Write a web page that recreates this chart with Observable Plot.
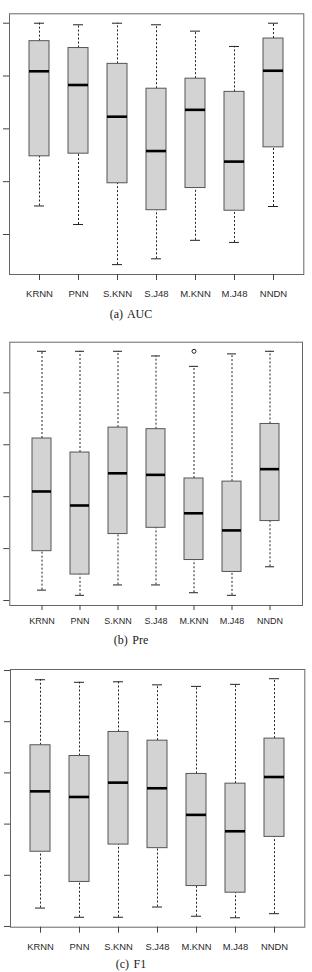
<!DOCTYPE html>
<html>
<head>
<meta charset="utf-8">
<script src="https://cdn.jsdelivr.net/npm/d3@7"></script>
<script src="https://cdn.jsdelivr.net/npm/@observablehq/plot@0.6"></script>
<style>
  html, body { margin: 0; padding: 0; background: #fff; }
  #wrap { position: relative; width: 312px; height: 972px; overflow: hidden; background: #fff; }
  .panel { position: absolute; left: 0; }
  .cap { position: absolute; left: 0; width: 262px; text-align: center; font-family: "Liberation Serif", "Times New Roman", serif; font-size: 12px; line-height: 12px; color: #1a1a1a; word-spacing: 1.5px; white-space: nowrap; }
</style>
</head>
<body>
<div id="wrap"></div>
<script>
// ---- data ----
const methods = ["KRNN", "PNN", "S.KNN", "S.J48", "M.KNN", "M.J48", "NNDN"];

// (a) AUC
const aucTicks = [0.6, 0.7, 0.8, 0.9, 1.0];
const aucMin = [0.654, 0.619, 0.543, 0.554, 0.589, 0.585, 0.653];
const aucQ1  = [0.748, 0.753, 0.697, 0.646, 0.688, 0.645, 0.765];
const aucMed = [0.909, 0.883, 0.823, 0.758, 0.836, 0.738, 0.910];
const aucQ3  = [0.966, 0.953, 0.923, 0.876, 0.895, 0.870, 0.971];
const aucMax = [1.000, 0.997, 1.000, 0.997, 0.985, 0.956, 1.000];

// (b) Pre
const preTicks = [0.5, 0.6, 0.7, 0.8, 0.9];
const preMin = [0.520, 0.510, 0.530, 0.530, 0.515, 0.510, 0.565];
const preQ1  = [0.595, 0.550, 0.628, 0.640, 0.578, 0.555, 0.653];
const preMed = [0.710, 0.683, 0.745, 0.742, 0.668, 0.635, 0.753];
const preQ3  = [0.812, 0.785, 0.833, 0.830, 0.735, 0.729, 0.840];
const preMax = [0.980, 0.980, 0.980, 0.971, 0.951, 0.975, 0.980];
const preOutlierMethod = ["M.KNN"];
const preOutlierValue  = [0.980];

// (c) F1
const f1Ticks = [0.4, 0.5, 0.6, 0.7, 0.8, 0.9];
const f1Min = [0.436, 0.418, 0.418, 0.438, 0.420, 0.417, 0.425];
const f1Q1  = [0.546, 0.487, 0.560, 0.553, 0.479, 0.466, 0.575];
const f1Med = [0.664, 0.653, 0.681, 0.670, 0.618, 0.586, 0.692];
const f1Q3  = [0.754, 0.733, 0.780, 0.763, 0.698, 0.679, 0.767];
const f1Max = [0.882, 0.877, 0.878, 0.872, 0.869, 0.873, 0.884];

const captions = ["(a) AUC", "(b) Pre", "(c) F1"];

// ---- drawing ----
function panel(o) {
  const rows = methods.map((m, i) => ({m, lo: o.mins[i], q1: o.q1[i], med: o.med[i], q3: o.q3[i], hi: o.maxs[i]}));
  const outs = (o.outM || []).map((m, i) => ({m, v: o.outV[i]}));
  const whisk = {stroke: "#222", strokeWidth: 1, strokeDasharray: "2,2"};
  const cap = {stroke: "#222", strokeWidth: 1, insetLeft: 5, insetRight: 5};
  return Plot.plot({
    width: 312,
    height: o.h,
    marginTop: o.mt, marginBottom: o.mb, marginLeft: o.ml, marginRight: o.mr,
    style: {fontFamily: "'Liberation Sans', Arial, sans-serif", fontSize: o.fs + "px", color: "#2a2a2a", background: "transparent"},
    x: {type: "band", domain: methods, paddingInner: 0.5, paddingOuter: 0.52, label: null},
    y: {domain: o.domain, label: null},
    marks: [
      Plot.ruleX(rows, {x: "m", y1: "lo", y2: "q1", ...whisk}),
      Plot.ruleX(rows, {x: "m", y1: "q3", y2: "hi", ...whisk}),
      Plot.tickY(rows, {x: "m", y: "lo", ...cap}),
      Plot.tickY(rows, {x: "m", y: "hi", ...cap}),
      Plot.barY(rows, {x: "m", y1: "q1", y2: "q3", fill: "#d3d3d3", stroke: "#555", strokeWidth: 1}),
      Plot.tickY(rows, {x: "m", y: "med", stroke: "#000", strokeWidth: 2.6}),
      Plot.dot(outs, {x: "m", y: "v", r: 2, stroke: "#222", fill: "none", strokeWidth: 1}),
      Plot.frame({stroke: "#666", strokeWidth: 1}),
      Plot.axisX({tickSize: o.ts, tickPadding: o.tp, stroke: "#444", fill: "#2a2a2a", label: null}),
      Plot.axisY({ticks: o.ticks, tickFormat: () => "", tickSize: 6, stroke: "#444", label: null})
    ]
  });
}

const specs = [
  {top: 0, h: 300, mins: aucMin, q1: aucQ1, med: aucMed, q3: aucQ3, maxs: aucMax, ticks: aucTicks,
   domain: [0.5243, 1.0178], mt: 13.3, mb: 26, ml: 9, mr: 8.7, ts: 6, tp: 10, fs: 9.5, capTop: 308},
  {top: 330, h: 300, mins: preMin, q1: preQ1, med: preMed, q3: preQ3, maxs: preMax, ticks: preTicks,
   outM: preOutlierMethod, outV: preOutlierValue,
   domain: [0.4904, 0.9975], mt: 11.7, mb: 25, ml: 9.3, mr: 10, ts: 5, tp: 7, fs: 9, capTop: 634},
  {top: 650, h: 312, mins: f1Min, q1: f1Q1, med: f1Med, q3: f1Q3, maxs: f1Max, ticks: f1Ticks,
   domain: [0.3986, 0.902], mt: 19, mb: 35.3, ml: 10, mr: 7.7, ts: 6, tp: 10.5, fs: 9.4, capTop: 958}
];

const wrap = document.getElementById("wrap");
specs.forEach((s, i) => {
  const div = document.createElement("div");
  div.className = "panel";
  div.style.top = s.top + "px";
  div.appendChild(panel(s));
  wrap.appendChild(div);
  const c = document.createElement("div");
  c.className = "cap";
  c.style.top = s.capTop + "px";
  c.textContent = captions[i];
  wrap.appendChild(c);
});
</script>
</body>
</html>
